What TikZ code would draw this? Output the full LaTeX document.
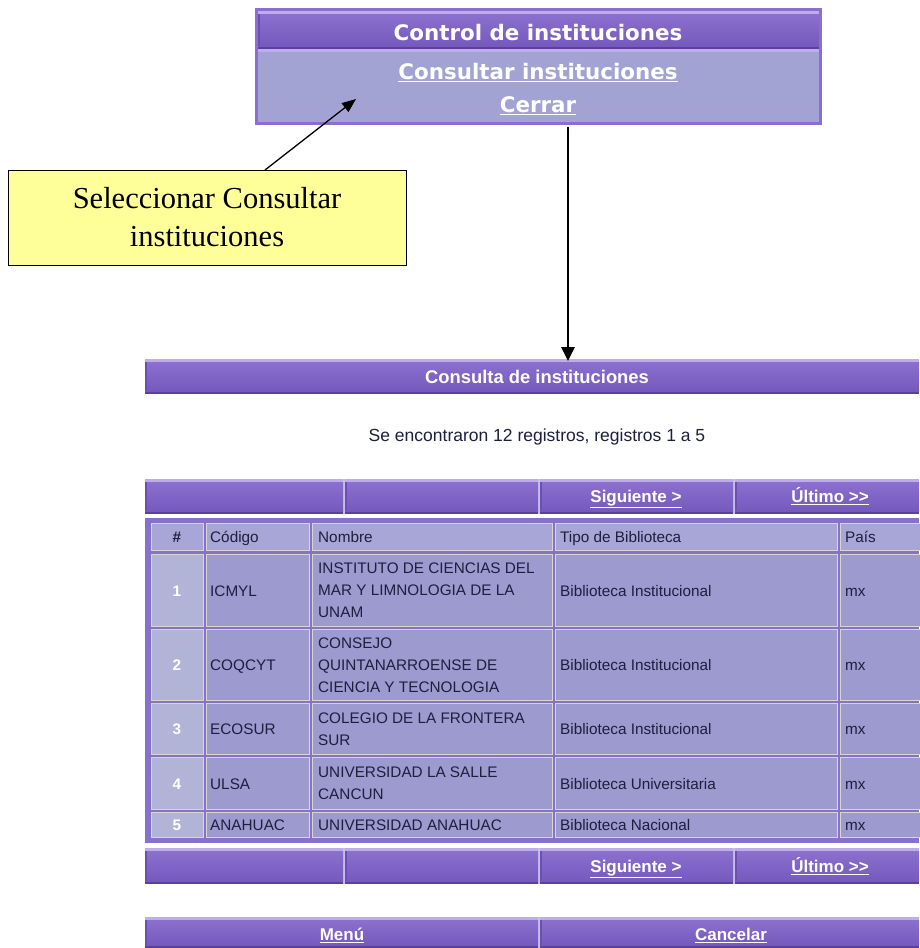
\documentclass[tikz,border=0pt]{standalone}
\usepackage{fontspec}
\setmainfont{Liberation Sans}
\newfontfamily\tfont{Liberation Serif}
\newfontfamily\dfont{DejaVu Sans}
\usetikzlibrary{arrows.meta}
\definecolor{bartop}{HTML}{BDAEEA}
\definecolor{barhi}{HTML}{8C70CE}
\definecolor{barlo}{HTML}{7559BD}
\definecolor{barbot}{HTML}{5B409E}
\definecolor{bardark}{HTML}{6A50B0}
\definecolor{lav}{HTML}{A3A3D3}
\definecolor{boxedge}{HTML}{8A6FD0}
\definecolor{tblbg}{HTML}{8671CB}
\definecolor{cellc}{HTML}{9C9ACE}
\definecolor{headc}{HTML}{A7A6D6}
\definecolor{numc}{HTML}{B1B4D6}
\definecolor{cellline}{HTML}{D9D6CC}
\definecolor{txt}{HTML}{1E1E40}
\definecolor{callfill}{HTML}{FFFF99}
\definecolor{sepc}{HTML}{C9BFEA}
\newcommand\pbar[4]{%
  \fill[barbot] (#1,#2) rectangle (#3,#4);
  \shade[top color=barhi,bottom color=barlo] (#1,#2+3) rectangle (#3,#4-3);
  \fill[bartop] (#1,#2) rectangle (#3,#2+3);
  \fill[bardark] (#1,#2+3) rectangle (#1+2,#4-3);
}
\newcommand\tcell[5]{%
  \fill[#5] (#1,#2) rectangle (#3,#4);
  \draw[cellline,line width=1.3pt] (#1+0.7,#2+0.7) rectangle (#3-0.7,#4-0.7);
}
\tikzset{
  ctext/.style={font=\fontsize{15.3}{22}\selectfont, text=txt, inner sep=0pt, align=left},
  stext/.style={font=\fontsize{15.3}{22}\selectfont, text=txt, inner sep=0pt, text height=11pt, text depth=0pt},
  numtext/.style={font=\fontsize{15.3}{22}\selectfont\bfseries, text=white, inner sep=0pt, text height=11pt, text depth=0pt},
  navtext/.style={font=\fontsize{17}{20}\selectfont\bfseries, text=white, inner sep=0pt, text height=12.5pt, text depth=0pt},
  toptext/.style={font=\dfont\bfseries\fontsize{21.4}{25}\selectfont, text=white, inner sep=0pt},
  thinarr/.style={line width=1.3pt, -{Triangle[length=14pt,width=11pt]}},
  thickarr/.style={line width=2.6pt, -{Triangle[length=14pt,width=13pt]}},
}
\begin{document}
\begin{tikzpicture}[x=1pt,y=-1pt]
\useasboundingbox (0,0) rectangle (919,948);
\fill[white] (0,0) rectangle (919,948);

% ---- top control box
\fill[boxedge] (255,8) rectangle (822,125);
\fill[lav] (258,50) rectangle (819,122);
\pbar{258}{11}{819}{49}
\fill[bartop] (258,49) rectangle (819,52);
\node[toptext] (tophead) at (538,33) {Control de instituciones};
\node[toptext] (consultar) at (538,73) {\underline{Consultar instituciones}};
\node[toptext] (cerrar) at (538,106) {\underline{Cerrar}};
\node[inner sep=0pt, minimum width=567pt, minimum height=117pt] (topbox) at (538.5,66.5) {};

% ---- callout
\node[draw=black, line width=1pt, fill=callfill, minimum width=398pt, minimum height=95pt,
      font=\tfont\fontsize{30.5}{38}\selectfont, align=center, inner sep=0pt] (callout) at (207,217.5)
      {Seleccionar Consultar\\instituciones};
\coordinate (cstart) at (265,170);
\coordinate (cend) at (356,99);
\draw[thinarr] (cstart) -- (cend);

% ---- consulta header
\pbar{145}{359}{919}{394}
\node[navtext, font=\fontsize{18.4}{22}\selectfont\bfseries] (qhead) at (537,377) {Consulta de instituciones};
\coordinate (vstart) at (568,127);
\coordinate (vend) at (568,361);
\draw[thickarr] (vstart) -- (vend);

\node[font=\fontsize{17.5}{20}\selectfont, text=txt, inner sep=0pt] (found) at (537,437)
  {Se encontraron 12 registros, registros 1 a 5};

% ---- nav bar 1
\fill[sepc] (145,479) rectangle (919,514);
\pbar{145}{479}{343}{514}
\pbar{345}{479}{538}{514}
\pbar{540}{479}{733}{514}
\pbar{735}{479}{919}{514}
\node[navtext] (sig1) at (636,496) {\underline{Siguiente >}};
\node[navtext] (ult1) at (830,496) {\underline{Último >{}>}};

% ---- table
\fill[tblbg] (145,518) rectangle (919,843);
% header row
\tcell{151}{523}{204}{551}{headc}
\tcell{206}{523}{310}{551}{headc}
\tcell{312}{523}{553}{551}{headc}
\tcell{555}{523}{838}{551}{headc}
\tcell{840}{523}{925}{551}{headc}
\node[stext, font=\fontsize{15.3}{22}\selectfont\bfseries] (h1) at (177,537) {\#};
\node[stext, anchor=west] (h2) at (210,537) {Código};
\node[stext, anchor=west] (h3) at (318,537) {Nombre};
\node[stext, anchor=west] (h4) at (560,537) {Tipo de Biblioteca};
\node[stext, anchor=west] (h5) at (845,537) {País};
% row 1
\tcell{151}{554}{204}{627}{numc}
\tcell{206}{554}{310}{627}{cellc}
\tcell{312}{554}{553}{627}{cellc}
\tcell{555}{554}{838}{627}{cellc}
\tcell{840}{554}{925}{627}{cellc}
\node[numtext] (n1) at (177,591) {1};
\node[stext, anchor=west] (c1) at (210,591) {ICMYL};
\node[ctext, anchor=west] (m1) at (318,590) {INSTITUTO DE CIENCIAS DEL\\MAR Y LIMNOLOGIA DE LA\\UNAM};
\node[stext, anchor=west] (t1) at (560,591) {Biblioteca Institucional};
\node[stext, anchor=west] (p1) at (845,591) {mx};
% row 2
\tcell{151}{629}{204}{701}{numc}
\tcell{206}{629}{310}{701}{cellc}
\tcell{312}{629}{553}{701}{cellc}
\tcell{555}{629}{838}{701}{cellc}
\tcell{840}{629}{925}{701}{cellc}
\node[numtext] (n2) at (177,665) {2};
\node[stext, anchor=west] (c2) at (210,665) {COQCYT};
\node[ctext, anchor=west] (m2) at (318,665) {CONSEJO\\QUINTANARROENSE DE\\CIENCIA Y TECNOLOGIA};
\node[stext, anchor=west] (t2) at (560,665) {Biblioteca Institucional};
\node[stext, anchor=west] (p2) at (845,665) {mx};
% row 3
\tcell{151}{703}{204}{755}{numc}
\tcell{206}{703}{310}{755}{cellc}
\tcell{312}{703}{553}{755}{cellc}
\tcell{555}{703}{838}{755}{cellc}
\tcell{840}{703}{925}{755}{cellc}
\node[numtext] (n3) at (177,729) {3};
\node[stext, anchor=west] (c3) at (210,729) {ECOSUR};
\node[ctext, anchor=west] (m3) at (318,729) {COLEGIO DE LA FRONTERA\\SUR};
\node[stext, anchor=west] (t3) at (560,729) {Biblioteca Institucional};
\node[stext, anchor=west] (p3) at (845,729) {mx};
% row 4
\tcell{151}{757}{204}{810}{numc}
\tcell{206}{757}{310}{810}{cellc}
\tcell{312}{757}{553}{810}{cellc}
\tcell{555}{757}{838}{810}{cellc}
\tcell{840}{757}{925}{810}{cellc}
\node[numtext] (n4) at (177,784) {4};
\node[stext, anchor=west] (c4) at (210,784) {ULSA};
\node[ctext, anchor=west] (m4) at (318,783) {UNIVERSIDAD LA SALLE\\CANCUN};
\node[stext, anchor=west] (t4) at (560,784) {Biblioteca Universitaria};
\node[stext, anchor=west] (p4) at (845,784) {mx};
% row 5
\tcell{151}{812}{204}{838}{numc}
\tcell{206}{812}{310}{838}{cellc}
\tcell{312}{812}{553}{838}{cellc}
\tcell{555}{812}{838}{838}{cellc}
\tcell{840}{812}{925}{838}{cellc}
\node[numtext] (n5) at (177,825) {5};
\node[stext, anchor=west] (c5) at (210,825) {ANAHUAC};
\node[stext, anchor=west] (m5) at (318,825) {UNIVERSIDAD ANAHUAC};
\node[stext, anchor=west] (t5) at (560,825) {Biblioteca Nacional};
\node[stext, anchor=west] (p5) at (845,825) {mx};

% ---- nav bar 2
\fill[sepc] (145,848) rectangle (919,884);
\pbar{145}{848}{343}{884}
\pbar{345}{848}{538}{884}
\pbar{540}{848}{733}{884}
\pbar{735}{848}{919}{884}
\node[navtext] (sig2) at (636,866) {\underline{Siguiente >}};
\node[navtext] (ult2) at (830,866) {\underline{Último >{}>}};

% ---- bottom bar
\fill[sepc] (145,917) rectangle (919,948);
\pbar{145}{917}{538}{948}
\pbar{540}{917}{919}{948}
\node[navtext] (menu) at (342,934) {\underline{Menú}};
\node[navtext] (cancel) at (731,934) {\underline{Cancelar}};
\end{tikzpicture}
\end{document}
